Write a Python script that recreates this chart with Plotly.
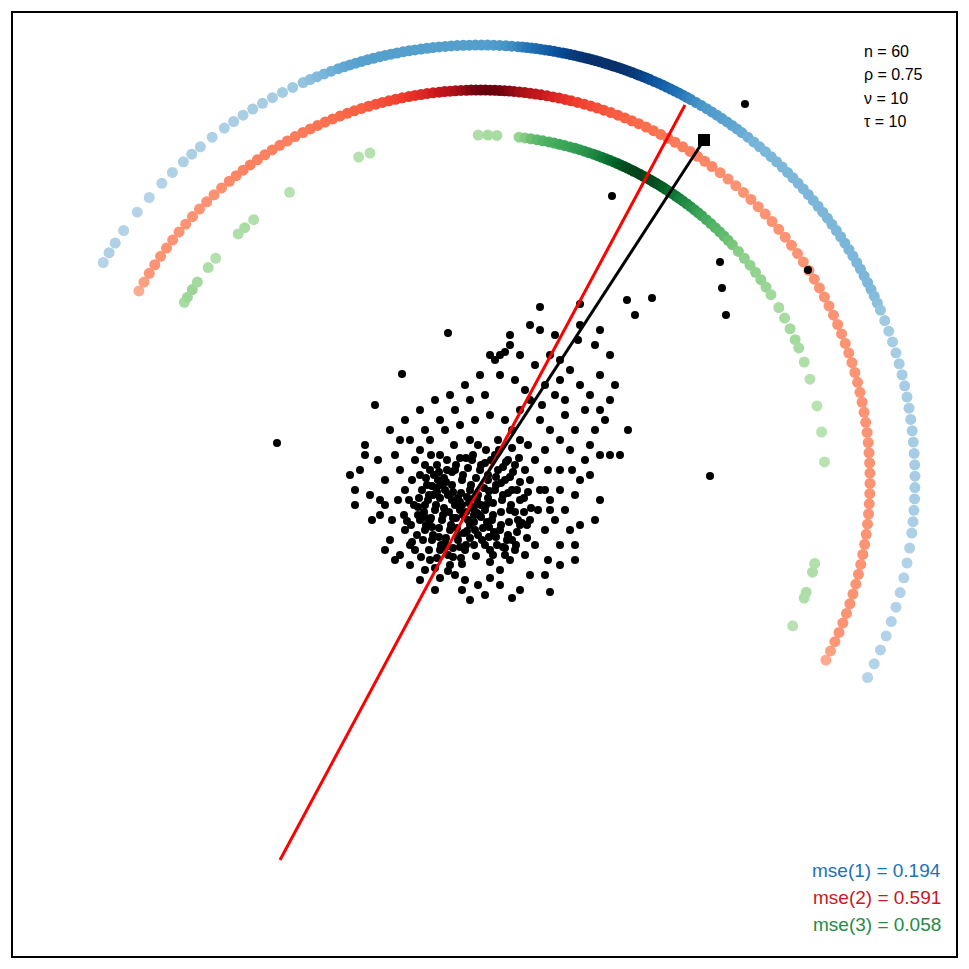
import numpy as np
import plotly.graph_objects as go

# centre and radii of the three arcs (picture coordinates)
centre = (480, 480)
radius_blue, radius_red, radius_green = 435, 390, 345

ang_blue = [150, 148.5, 147, 145, 142, 139.5, 137, 135, 133, 131.5, 130, 128, 126, 124.5, 123, 121.5, 120, 118.5,
            117, 115.5, 114, 113, 112, 111, 110, 109, 108.2, 107.4, 106.6, 105.8, 105, 104.2, 103.4, 102.6, 101.8,
            101, 100.2, 99.4, 98.6, 97.8, 97, 96.2, 95.4, 94.6, 93.8, 93, 92.2, 91.4, 90.6, 89.8, 89, 88.2, 87.4,
            86.6, 85.8, 85, 84.4, 83.8, 83.2, 82.6, 82, 81.4, 80.8, 80.2, 79.6, 79, 78.5, 78, 77.5, 77, 76.5, 76,
            75.5, 75, 74.5, 74, 73.5, 73, 72.5, 72, 71.5, 71, 70.5, 70, 69.5, 69, 68.5, 68, 67.5, 67, 66.4, 65.8,
            65.2, 64.6, 64, 63.4, 62.8, 62.2, 61.6, 61, 60.2, 59.4, 58.6, 57.8, 57, 56.2, 55.4, 54.6, 53.8, 53, 52,
            51, 50, 49, 48, 47, 46, 45, 44, 43, 42, 41, 40, 39, 38, 37, 36, 35, 34, 33, 32, 31, 30, 29, 28, 27, 26,
            25, 24, 23, 21.5, 20, 18.5, 17, 15.5, 14, 12.5, 11, 9.5, 8, 6.5, 5, 3.5, 2, 0.5, -1, -2.5, -4, -5.5,
            -7, -9, -11, -13, -15, -17, -19, -21, -23, -25, -27]
ang_red = [151, 149.5, 148, 146.5, 145, 143.5, 142, 140.5, 139, 137.5, 136, 134.5, 133, 131.5, 130, 128.7, 127.4,
           126.1, 124.8, 123.5, 122.2, 120.9, 119.6, 118.3, 117, 115.8, 114.6, 113.4, 112.2, 111, 109.9, 108.8,
           107.7, 106.6, 105.5, 104.5, 103.5, 102.5, 101.5, 100.5, 99.6, 98.7, 97.8, 96.9, 96, 95.2, 94.4, 93.6,
           92.8, 92, 91.3, 90.6, 89.9, 89.2, 88.5, 87.8, 87.1, 86.4, 85.7, 85, 84.2, 83.4, 82.6, 81.8, 81, 80.1,
           79.2, 78.3, 77.4, 76.5, 75.5, 74.5, 73.5, 72.5, 71.5, 70.4, 69.3, 68.2, 67.1, 66, 64.8, 63.6, 62.4, 61.2,
           60, 58.7, 57.4, 56.1, 54.8, 53.5, 52, 50.5, 49, 47.5, 46, 44.5, 43, 41.5, 40, 38.5, 37, 35.5, 34, 32.5,
           31, 29.5, 28, 26.5, 25, 23.5, 22, 20.5, 19, 17.5, 16, 14.5, 13, 11.5, 10, 8.5, 7, 5.5, 4, 2.5, 1, -0.5,
           -2, -3.5, -5, -6.5, -8, -9.5, -11, -12.5, -14, -15.5, -17, -18.5, -20, -21.5, -23, -24.5, -26, -27.5]
ang_green = [149, 148, 146.5, 145, 142, 140, 134.5, 133, 131, 123.5, 110.6, 108.6, 90.3, 88.7, 87.2, 83.5, 82.5,
             81.5, 80.5, 79.5, 78.5, 77.6, 76.7, 75.8, 74.9, 74, 73.2, 72.4, 71.6, 70.8, 70, 69.3, 68.6, 67.9, 67.2,
             66.5, 65.9, 65.3, 64.7, 64.1, 63.5, 62.9, 62.3, 61.7, 61.1, 60.5, 59.9, 59.3, 58.7, 58.1, 57.5, 56.8,
             56.1, 55.4, 54.7, 54, 53.2, 52.4, 51.6, 50.8, 50, 49, 48, 47, 46, 45, 44, 43, 41.5, 40, 38.5, 37, 35.5,
             34, 32.5, 30, 28, 26, 24, 22.5, 20, 17, 12.4, 8, 3, -14, -15.5, -19, -20, -25]

cloud = [(430,470),(438,480),(445,490),(452,500),(460,510),(468,520),(475,530),(482,540),(490,550),(498,470),
         (505,480),(512,490),(520,500),(428,500),(435,510),(442,520),(450,530),(458,540),(465,550),(472,460),
         (480,470),(488,480),(495,490),(502,500),(510,510),(518,520),(425,530),(432,540),(440,550),(447,460),
         (455,470),(462,480),(470,490),(477,500),(485,510),(492,520),(500,530),(507,540),(515,550),(422,490),
         (429,495),(436,505),(443,515),(451,525),(458,535),(466,545),(473,455),(481,465),(488,475),(496,485),
         (503,495),(511,505),(418,515),(426,525),(433,535),(441,545),(448,555),(456,465),(463,475),(471,485),
         (478,495),(486,505),(493,515),(501,525),(508,535),(516,545),(414,505),(420,520),(444,508),(466,512),
         (474,522),(458,498),(440,498),(483,528),(452,485),(462,505),(470,538),(488,498),(456,518),(436,488),
         (434,475),(441,485),(448,495),(455,505),(463,515),(470,525),(478,535),(485,545),(493,555),(427,485),
         (433,495),(439,528),(446,538),(453,548),(461,558),(424,512),(431,518),(437,492),(449,512),(457,528),
         (464,533),(472,508),(479,515),(487,522),(494,532),(501,512),(509,522),(517,532),(524,512),(528,492),
         (520,482),(513,472),(506,462),(499,450),(491,460),(484,488),(476,478),(468,468),(460,458),(452,472),
         (444,478),(437,465),(431,455),(423,540),(429,550),(437,558),(445,543),(453,518),(461,493),(469,503),
         (477,513),(485,463),(493,503),(501,483),(508,493),(515,512),(522,523),(527,538),(519,458),(512,448),
         (404,515),(409,500),(411,525),(417,535),(419,498),(447,470),(466,458),(474,545),(489,537),(497,545),
         (426,478),(432,486),(439,472),(446,482),(453,492),(460,502),(467,497),(474,507),(481,517),(489,527),
         (496,537),(503,547),(418,507),(425,517),(432,527),(439,537),(446,547),(453,557),(460,547),(467,531),
         (474,515),(481,505),(489,491),(496,477),(503,467),(510,477),(517,490),(524,498),(531,508),(527,525),
         (512,540),(505,555),(490,562),(476,556),(462,564),(448,571),(435,568),(421,557),(412,542),(407,521),
         (400,470),(405,530),(410,545),(398,500),(392,520),(415,460),(420,450),(430,440),(445,430),(460,425),
         (475,420),(490,415),(505,420),(520,410),(530,400),(540,420),(550,430),(560,440),(545,450),(535,460),
         (525,470),(530,480),(540,490),(550,500),(560,470),(570,450),(575,430),(565,415),(555,395),(545,385),
         (525,390),(515,380),(500,375),(485,395),(470,400),(455,410),(440,420),(425,430),(410,440),(395,455),
         (385,480),(380,500),(390,540),(400,555),(410,565),(425,570),(440,578),(455,575),(465,580),(478,585),
         (490,578),(500,570),(510,560),(525,555),(535,545),(545,530),(555,520),(565,510),(575,495),(580,480),
         (585,460),(590,445),(595,430),(600,410),(590,395),(580,385),(570,370),(560,360),(550,355),(535,365),
         (520,355),(505,352),(495,360),(480,375),(465,385),(450,395),(435,400),(420,410),(405,420),(375,405),
         (365,445),(360,470),(355,490),(370,495),(380,515),(385,550),(395,560),(420,580),(435,590),(462,590),
         (485,595),(500,585),(530,575),(548,560),(560,545),(570,530),(580,525),(600,500),(610,455),(605,420),
         (615,385),(600,375),(610,355),(595,345),(578,340),(555,335),(540,330),(510,335),(500,355),(560,380),
         (542,405),(512,430),(528,445),(548,470),(538,510),(520,525),(505,548),(560,490),(572,470),(498,440),
         (486,450),(470,440),(454,445),(440,455),(425,465),(520,440),(508,460),(530,520),(550,510),(545,490),
         (515,465),(495,455),(478,445),(565,400),(585,410),(610,400),(628,430),(600,455),(590,475),(575,545),
         (560,565),(545,575),(520,590),(470,600),(450,565),(430,560),(415,550),(405,490),(412,480),(420,475),
         (390,430),(400,440),(350,475),(378,460),(372,520),(385,505),(425,505),(430,520),
         (448,333),(402,374),(540,307),(580,304),(627,300),(652,298),(635,315),(277,443),(612,196),(720,262),
         (722,288),(726,315),(710,476),(745,104),(808,270),(512,598),(550,592),(600,330),(580,325),(530,325),
         (510,345),(620,455),(595,520),(575,560),(490,355),(355,505),(365,455)]

red_line_x, red_line_y = [280, 685], [860, 105]
black_line_x, black_line_y = [470, 704], [500, 140]

stats = ["n = 60", "ρ = 0.75", "ν = 10", "τ = 10"]
mse_labels = ["mse(1) = 0.194", "mse(2) = 0.591", "mse(3) = 0.058"]
mse_colors = ["#2171b5", "#cb181d", "#238b45"]

fig = go.Figure()


def add_arc(angles, r, scale):
    a = np.array(angles, dtype=float)
    dens = np.exp(-((a[:, None] - a[None, :]) / 3.0) ** 2).sum(axis=1)
    c = (dens - dens.min()) / (dens.max() - dens.min())
    t = np.radians(a)
    fig.add_trace(go.Scatter(
        x=centre[0] + r * np.cos(t), y=centre[1] - r * np.sin(t), mode="markers",
        marker=dict(size=11, color=0.3 + 0.7 * c ** 1.6, colorscale=scale, cmin=0, cmax=1, line_width=0),
        hoverinfo="skip"))


add_arc(ang_blue, radius_blue, "Blues")
add_arc(ang_red, radius_red, "Reds")
add_arc(ang_green, radius_green, "Greens")

fig.add_trace(go.Scatter(x=[p[0] for p in cloud], y=[p[1] for p in cloud], mode="markers",
                         marker=dict(size=8, color="black")))
fig.add_trace(go.Scatter(x=red_line_x, y=red_line_y, mode="lines", line=dict(color="red", width=3)))
fig.add_trace(go.Scatter(x=black_line_x, y=black_line_y, mode="lines", line=dict(color="black", width=3)))
fig.add_trace(go.Scatter(x=[black_line_x[1]], y=[black_line_y[1]], mode="markers",
                         marker=dict(size=12, symbol="square", color="black")))

for i, s in enumerate(stats):
    fig.add_annotation(x=862, y=51 + i * 23.5, text=s, showarrow=False, xanchor="left",
                       font=dict(size=16, color="black"))
for i, (s, col) in enumerate(zip(mse_labels, mse_colors)):
    fig.add_annotation(x=943, y=870 + i * 27, text=s, showarrow=False, xanchor="right",
                       font=dict(size=19, color=col))

fig.add_shape(type="rect", x0=12, x1=957, y0=12, y1=957, line=dict(color="black", width=2))

# the page body adds an 8 px offset, so the ranges are shifted to compensate
fig.update_layout(
    width=969, height=969, showlegend=False,
    plot_bgcolor="white", paper_bgcolor="white",
    margin=dict(l=0, r=0, t=0, b=0),
    font=dict(family="Liberation Sans"),
    xaxis=dict(range=[8, 977], visible=False),
    yaxis=dict(range=[977, 8], visible=False),
)

fig.write_html("out.html")
